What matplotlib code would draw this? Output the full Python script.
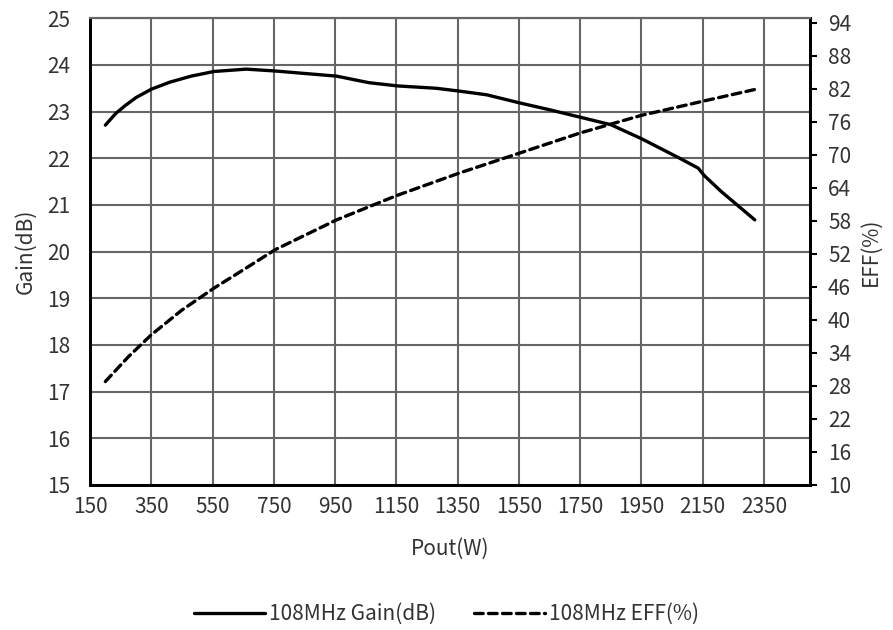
import numpy as np
from matplotlib import pyplot as plt

plt.rcParams['font.family'] = ['Noto Sans CJK SC', 'DejaVu Sans']

# gain curve
gainX = [200, 234, 265, 300, 350, 410, 480, 555, 660, 755, 955, 1060, 1155, 1280, 1355, 1445,
         1550, 1650, 1750, 1850, 1950, 2075, 2135, 2155, 2210, 2320]
gainY = [22.71, 22.96, 23.13, 23.30, 23.48, 23.63, 23.76, 23.86, 23.91, 23.87, 23.76, 23.62, 23.55, 23.50, 23.44, 23.36,
         23.19, 23.04, 22.88, 22.72, 22.42, 22.0, 21.79, 21.63, 21.29, 20.68]

# efficiency curve
effX = [200, 275, 350, 450, 555, 650, 755, 955, 1150, 1355, 1550, 1750, 1850, 1950, 2145, 2320]
effY = [28.8, 33.3, 37.3, 41.8, 45.8, 49.1, 52.8, 58.2, 62.6, 66.7, 70.3, 74.0, 75.6, 77.2, 79.7, 81.9]

xTicks = list(range(150, 2351, 200))
gainTicks = list(range(15, 26))
effTicks = list(range(10, 95, 6))

fig = plt.figure(figsize=(8.93, 6.3), dpi=100)
ax = fig.add_axes([0.1008, 0.2302, 0.8062, 0.7408])
ax2 = ax.twinx()

gridCol = '#666666'
ax.set_xlim(150, 2500)
ax.set_ylim(15, 25)
ax.set_xticks(xTicks)
ax.set_yticks(gainTicks)
ax.grid(True, color=gridCol, linewidth=1.5)
ax.set_axisbelow(True)
ax.tick_params(axis='both', length=0, labelsize=15, colors='#333333')
ax.tick_params(axis='y', pad=14)
ax.tick_params(axis='x', pad=8)

line1, = ax.plot(gainX, gainY, color='black', linewidth=2.4,
                 solid_capstyle='round', solid_joinstyle='round', label='108MHz Gain(dB)')
line2, = ax2.plot(effX, effY, color='black', linewidth=2.4, linestyle=(0, (2.6, 1.6)),
                  dash_capstyle='round', label='108MHz EFF(%)')

ax2.set_ylim(10, 94.85)
ax2.set_yticks(effTicks)
ax2.tick_params(axis='y', length=5, width=1.5, pad=8, labelsize=15, colors='black',
                labelcolor='#333333', direction='out')

for a in (ax, ax2):
    a.spines['top'].set_color(gridCol)
    a.spines['top'].set_linewidth(1.5)
    a.spines['left'].set_color('black')
    a.spines['left'].set_linewidth(2)
    a.spines['bottom'].set_color('black')
    a.spines['bottom'].set_linewidth(2)
    a.spines['right'].set_color('black')
    a.spines['right'].set_linewidth(2)

ax.set_xlabel('Pout(W)', fontsize=15, color='#333333', labelpad=14)
ax.set_ylabel('Gain(dB)', fontsize=15, color='#333333', labelpad=8)
ax2.set_ylabel('EFF(%)', fontsize=15, color='#333333', labelpad=6)

fig.legend(handles=[line1, line2], loc='center', bbox_to_anchor=(0.5, 0.025), ncol=2,
           frameon=False, fontsize=15, handlelength=3.4, handletextpad=0.2, columnspacing=1.8,
           labelcolor='#333333')

fig.savefig('out.png', dpi=100)
